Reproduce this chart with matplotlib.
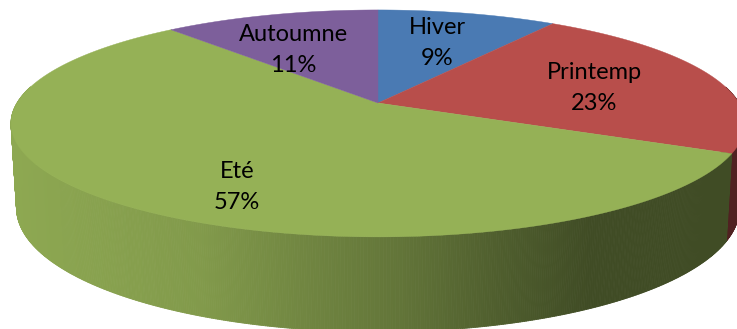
import numpy as np
import matplotlib
matplotlib.use('Agg')
import matplotlib.pyplot as plt
from matplotlib.collections import PolyCollection

labels = ['Hiver', 'Printemp', 'Eté', 'Autoumne']
values = [9.4, 22.6, 56.7, 11.3]
top_colors = ['#4a7ab3', '#b84e4b', '#95b156', '#7d5f9b']
side_colors = ['#2c4a6e', '#502121', '#95b156', '#4d3a60']
label_pos = [(437, 43), (594, 88), (237, 187), (293, 50)]

# pie geometry in image pixels
cx, cy = 378, 103
b, a, k = 361, 109.8, 0.18
shrink = 0.985

# shading of the rim, from left to right
shade_x = [10, 200, 300, 400, 500, 590, 740]
shade_f = [0.95, 0.87, 0.76, 0.66, 0.53, 0.43, 0.43]


def project(theta):
    s, c = np.sin(theta), np.cos(theta)
    d = 1 + k * c
    return cx + b * s / d, cy - a * c / d


def project_low(theta):
    x, y = project(theta)
    return cx + (x - cx) * shrink, y + 82 - 13 * np.cos(theta)


def rgb(col):
    return np.array(matplotlib.colors.to_rgb(col))


fig = plt.figure(figsize=(7.37, 3.29), dpi=100)
ax = fig.add_axes([0, 0, 1, 1])
ax.set_xlim(0, 737)
ax.set_ylim(329, 0)
ax.axis('off')

edges = np.radians(np.cumsum([0] + values) * 3.6)

# rim, drawn as thin strips so that the shading looks continuous
polys, cols = [], []
for i in range(len(values)):
    th = np.linspace(edges[i], edges[i + 1], max(2, int(values[i] * 12)))
    for t0, t1 in zip(th[:-1], th[1:]):
        if np.cos((t0 + t1) / 2) > 0.15:
            continue  # back of the pie is hidden
        x0, y0 = project(t0)
        x1, y1 = project(t1)
        x2, y2 = project_low(t1)
        x3, y3 = project_low(t0)
        polys.append([(x0, y0), (x1, y1), (x2, y2), (x3, y3)])
        if labels[i] == 'Eté':
            f = np.interp((x0 + x1) / 2, shade_x, shade_f)
            cols.append(rgb(side_colors[i]) * f)
        else:
            cols.append(rgb(side_colors[i]))
ax.add_collection(PolyCollection(polys, facecolors=cols, edgecolors=cols, linewidths=0.6))

# top of the pie
for i in range(len(values)):
    th = np.linspace(edges[i], edges[i + 1], 200)
    x, y = project(th)
    ax.fill(np.r_[cx, x], np.r_[cy, y], color=top_colors[i], lw=0.3)

for i in range(len(values)):
    ax.text(label_pos[i][0], label_pos[i][1], '%s\n%.0f%%' % (labels[i], values[i]),
            ha='center', va='center', fontsize=17, family='Lato', color='black', linespacing=1.55)

fig.savefig('out.png', dpi=100)
